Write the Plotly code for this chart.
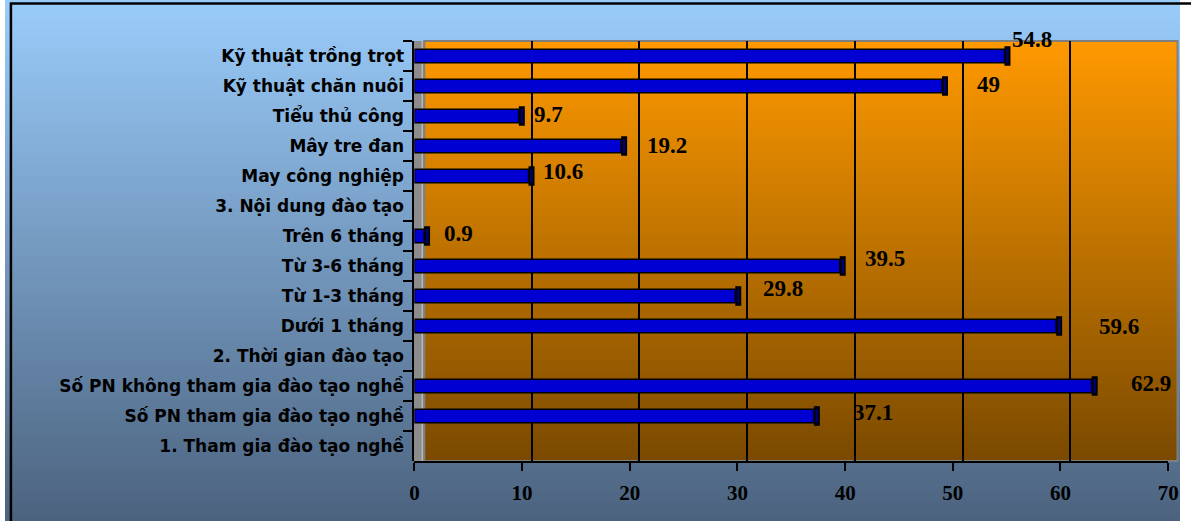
import base64
import struct
import zlib

import plotly.graph_objects as go

# ---------------- data ----------------
categories = [
    "Kỹ thuật trồng trọt",
    "Kỹ thuật chăn nuôi",
    "Tiểu thủ công",
    "Mây tre đan",
    "May công nghiệp",
    "3. Nội dung đào tạo",
    "Trên 6 tháng",
    "Từ 3-6 tháng",
    "Từ 1-3 tháng",
    "Dưới 1 tháng",
    "2. Thời gian đào tạo",
    "Số PN không tham gia đào tạo nghề",
    "Số PN tham gia đào tạo nghề",
    "1. Tham gia đào tạo nghề",
]
values = [54.8, 49, 9.7, 19.2, 10.6, None, 0.9, 39.5, 29.8, 59.6, None, 62.9, 37.1, None]
x_ticks = [0, 10, 20, 30, 40, 50, 60, 70]
grid_ticks = [10, 20, 30, 40, 50, 60]

# label offsets in pixels (style only)
label_dx = [6, 33, 13, 24, 12, 0, 18, 23, 26, 41, 0, 37, 37, 0]
label_dy = [16, 1, 1, 0, 4, 0, 2, 8, 8, 0, 0, 3, 4, 0]

# ---------------- helpers ----------------
W, H = 1191, 521


def px(x):
    return x / W


def py(y):
    return (H - y) / H


def gradient_png(top, bottom, n=256):
    rows = []
    for i in range(n):
        t = i / (n - 1)
        c = bytes(int(round(top[k] + (bottom[k] - top[k]) * t)) for k in range(3))
        rows.append(b"\x00" + c)
    raw = b"".join(rows)

    def chunk(tag, data):
        return (struct.pack(">I", len(data)) + tag + data
                + struct.pack(">I", zlib.crc32(tag + data) & 0xFFFFFFFF))

    png = (b"\x89PNG\r\n\x1a\n"
           + chunk(b"IHDR", struct.pack(">IIBBBBB", 1, n, 8, 2, 0, 0, 0))
           + chunk(b"IDAT", zlib.compress(raw, 9))
           + chunk(b"IEND", b""))
    return "data:image/png;base64," + base64.b64encode(png).decode()


bg_img = gradient_png((0x9A, 0xCC, 0xFB), (0x4C, 0x63, 0x7F))
wall_img = gradient_png((0xFF, 0x99, 0x00), (0x7A, 0x4A, 0x00))

# plot geometry (pixels)
TOP, BOTTOM = 41, 461
FRONT0, FRONT70 = 415, 1179      # bar / tick axis
BACK0, BACK70 = 424.7, 1189      # back-wall gridlines
CAP0, CAP70 = 418, 1182          # 3-D end caps

fig = go.Figure()

# invisible helper so that the back-wall (gridline) subplot is drawn first
fig.add_trace(go.Scatter(
    x=[0, 70], y=[categories[0], categories[-1]], xaxis="x", yaxis="y",
    mode="markers", marker=dict(size=1, opacity=0), hoverinfo="skip", showlegend=False,
))
fig.add_trace(go.Bar(
    x=values, y=categories, orientation="h",
    xaxis="x2", yaxis="y", width=0.45,
    marker=dict(color="#0000D2", line=dict(color="#000000", width=1.5)),
    hoverinfo="x+y", showlegend=False,
))
fig.add_trace(go.Scatter(
    x=values, y=categories, xaxis="x3", yaxis="y", mode="markers",
    marker=dict(symbol="line-ns", size=14, line=dict(color="#000000", width=6)),
    hoverinfo="skip", showlegend=False,
))
fig.add_trace(go.Scatter(
    x=values, y=categories, xaxis="x3", yaxis="y", mode="markers",
    marker=dict(symbol="line-ns", size=10, line=dict(color="#000070", width=2.5)),
    hoverinfo="skip", showlegend=False,
))

annotations = []
for cat, v, dx, dy in zip(categories, values, label_dx, label_dy):
    if v is None:
        continue
    annotations.append(dict(
        x=v, y=cat, xref="x2", yref="y", text=f"{v:g}", showarrow=False,
        xanchor="left", yanchor="middle", xshift=dx, yshift=dy,
        font=dict(family="Liberation Serif", size=23, color="#000000", weight="bold"),
    ))

shapes = [
    # left grey wall
    dict(type="rect", xref="paper", yref="paper", layer="below",
         x0=px(414), x1=px(425), y0=py(BOTTOM), y1=py(TOP),
         fillcolor="#8C8C8C", line=dict(width=0)),
    dict(type="line", xref="paper", yref="paper", layer="below",
         x0=px(423), x1=px(423), y0=py(BOTTOM), y1=py(TOP),
         line=dict(color="#B8B8B8", width=1.5)),
    # back wall border
    dict(type="rect", xref="paper", yref="paper", layer="below",
         x0=px(425), x1=px(1188.5), y0=py(BOTTOM), y1=py(TOP),
         line=dict(color="#7F7F7F", width=2)),
    # chart frame
    dict(type="rect", xref="paper", yref="paper", layer="above",
         x0=px(6), x1=px(W + 20), y0=py(H + 20), y1=py(3.5),
         line=dict(color="#000000", width=2.5)),
]

images = [
    dict(source=bg_img, xref="paper", yref="paper", x=0, y=1, sizex=1, sizey=1,
         xanchor="left", yanchor="top", sizing="stretch", layer="below"),
    dict(source=wall_img, xref="paper", yref="paper", x=px(425), y=py(TOP),
         sizex=px(1188) - px(425), sizey=py(TOP) - py(BOTTOM),
         xanchor="left", yanchor="top", sizing="stretch", layer="below"),
]

fig.update_layout(
    width=W, height=H, margin=dict(l=0, r=0, t=0, b=0),
    paper_bgcolor="rgba(0,0,0,0)", plot_bgcolor="rgba(0,0,0,0)",
    showlegend=False,
    images=images, shapes=shapes, annotations=annotations,
    xaxis=dict(  # back-wall gridlines
        domain=[px(BACK0), px(BACK70)], range=[0, 70], anchor="y",
        tickmode="array", tickvals=grid_ticks, showticklabels=False, ticks="",
        showgrid=True, gridcolor="#000000", gridwidth=2,
        showline=False, zeroline=False, fixedrange=True,
    ),
    xaxis2=dict(  # front value axis
        domain=[px(FRONT0), px(FRONT70)], range=[0, 70], anchor="y",
        tickmode="array", tickvals=x_ticks, ticktext=[str(t) for t in x_ticks],
        ticks="outside", ticklen=8, tickwidth=2, tickcolor="#000000",
        showline=True, linecolor="#000000", linewidth=2,
        showgrid=False, zeroline=False, ticklabelstandoff=4,
        tickfont=dict(family="Liberation Serif", size=21, color="#000000", weight="bold"),
    ),
    xaxis3=dict(  # cap axis
        domain=[px(CAP0), px(CAP70)], range=[0, 70], anchor="y",
        visible=False, showgrid=False, zeroline=False,
    ),
    yaxis=dict(
        domain=[py(BOTTOM), py(TOP)], type="category",
        categoryorder="array", categoryarray=categories,
        range=[len(categories) - 0.5, -0.5],
        anchor="free", position=px(414),
        showline=True, linecolor="#000000", linewidth=2,
        ticks="outside", ticklen=9, tickwidth=2, tickcolor="#000000",
        tickson="boundaries", showgrid=False, zeroline=False,
        ticklabelstandoff=5,
        tickfont=dict(family="DejaVu Sans", size=17, color="#000000", weight="bold"),
    ),
)

fig.write_html("out.html")
